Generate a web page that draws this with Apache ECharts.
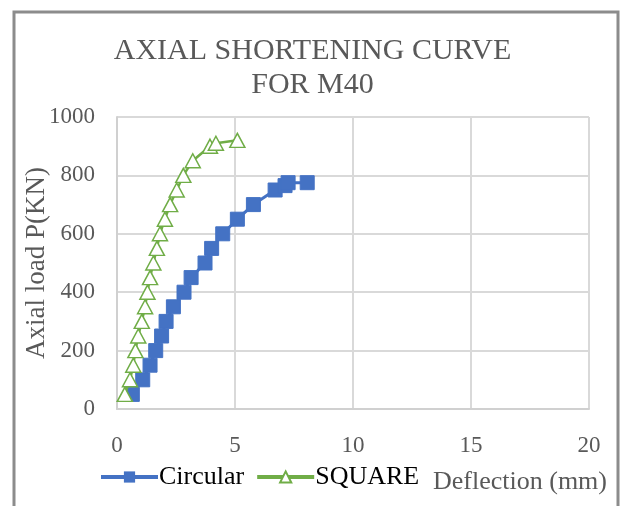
<!DOCTYPE html>
<html>
<head>
<meta charset="utf-8">
<script src="https://cdn.jsdelivr.net/npm/echarts@6/dist/echarts.min.js"></script>
<style>
html,body{margin:0;padding:0;background:#fff;}
#chart{width:625px;height:506px;}
</style>
</head>
<body>
<div id="chart"></div>
<script>
const titleText = 'AXIAL SHORTENING CURVE\nFOR M40';
const xAxisName = 'Deflection (mm)';
const yAxisName = 'Axial load P(KN)';
const seriesNames = ['Circular', 'SQUARE'];

const circularX = [0.65, 1.09, 1.40, 1.64, 1.89, 2.08, 2.39, 2.84, 3.14, 3.73, 4.01, 4.48, 5.10, 5.78, 6.70, 7.12, 7.25, 8.06];
const circularY = [50, 100, 150, 200, 250, 300, 350, 400, 450, 500, 550, 600, 650, 700, 750, 765, 775, 775];

const squareX = [0.33, 0.55, 0.69, 0.78, 0.90, 1.05, 1.19, 1.29, 1.40, 1.54, 1.69, 1.82, 2.03, 2.25, 2.53, 2.81, 3.21, 3.94, 4.19, 5.10];
const squareY = [50, 100, 150, 200, 250, 300, 350, 400, 450, 500, 550, 600, 650, 700, 750, 800, 850, 900, 910, 920];

const xTicks = {min: 0, max: 20, interval: 5};
const yTicks = {min: 0, max: 1000, interval: 200};

const pairs = (xs, ys) => xs.map((x, i) => [x, ys[i]]);

const chart = echarts.init(document.getElementById('chart'), null, {renderer: 'canvas'});
const serif = '"Liberation Serif", "Times New Roman", serif';
const gray = '#595959';

chart.setOption({
  animation: false,
  backgroundColor: '#fff',
  title: {
    text: titleText,
    left: 'center',
    top: 29,
    textStyle: {fontFamily: serif, fontSize: 30, fontWeight: 'normal', color: gray, lineHeight: 34}
  },
  grid: {left: 117, top: 117, right: 36, bottom: 97, containLabel: false},
  legend: {
    left: 94,
    top: 459,
    itemWidth: 57,
    itemHeight: 14,
    itemGap: 11,
    lineStyle: {width: 4},
    textStyle: {fontFamily: serif, fontSize: 26, color: '#000', padding: [0, 0, 0, -4]},
    data: seriesNames
  },
  xAxis: {
    type: 'value',
    min: xTicks.min, max: xTicks.max, interval: xTicks.interval,
    axisLine: {show: true, lineStyle: {color: '#d0d0d0', width: 2}},
    axisTick: {show: false},
    splitLine: {show: true, lineStyle: {color: '#d9d9d9', width: 2}},
    axisLabel: {fontFamily: serif, fontSize: 23, color: gray, margin: 25}
  },
  yAxis: {
    type: 'value',
    min: yTicks.min, max: yTicks.max, interval: yTicks.interval,
    name: yAxisName,
    nameLocation: 'middle',
    nameGap: 67,
    nameMoveOverlap: false,
    nameTextStyle: {fontFamily: serif, fontSize: 27, color: gray},
    axisLine: {show: true, lineStyle: {color: '#d0d0d0', width: 2}},
    axisTick: {show: false},
    splitLine: {show: true, lineStyle: {color: '#d9d9d9', width: 2}},
    axisLabel: {fontFamily: serif, fontSize: 23, color: gray, margin: 22, formatter: v => String(v)}
  },
  graphic: [
    {type: 'rect', shape: {x: 14, y: 12, width: 604, height: 520}, style: {fill: 'none', stroke: '#8c8c8c', lineWidth: 3}, silent: true},
    {type: 'text', right: 18, top: 469, style: {text: xAxisName, font: '26px ' + serif, fill: gray}}
  ],
  series: [
    {
      name: seriesNames[0],
      type: 'line',
      data: pairs(circularX, circularY),
      symbol: 'rect',
      symbolSize: 14,
      lineStyle: {color: '#4472C4', width: 3},
      itemStyle: {color: '#4472C4', borderColor: '#4472C4'},
      z: 2
    },
    {
      name: seriesNames[1],
      type: 'line',
      data: pairs(squareX, squareY),
      symbol: 'triangle',
      symbolSize: [15, 14],
      lineStyle: {color: '#70AD47', width: 2.5},
      itemStyle: {color: '#ffffff', borderColor: '#70AD47', borderWidth: 1.5},
      z: 3
    }
  ]
});
</script>
</body>
</html>
